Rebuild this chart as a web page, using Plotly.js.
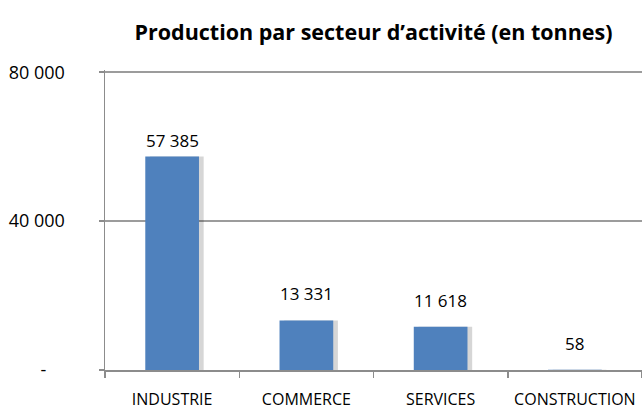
<!DOCTYPE html>
<html>
<head>
<meta charset="utf-8">
<script src="https://cdn.plot.ly/plotly-3.0.1.min.js"></script>
<style>html,body{margin:0;padding:0;background:#fff;}#chart{width:642px;height:410px;}</style>
</head>
<body>
<div id="chart"></div>
<script>
var categories = ["INDUSTRIE", "COMMERCE", "SERVICES", "CONSTRUCTION"];
var production = [57385, 13331, 11618, 58];
var yTickValues = [0, 40000, 80000];
var yTickLabels = ["-\u00a0\u00a0\u00a0\u00a0", "40 000", "80 000"];

function fmt(v) {
  return String(v).replace(/\B(?=(\d{3})+(?!\d))/g, " ");
}

var shadow = {
  type: "bar",
  x: categories,
  y: production,
  width: 0.4,
  offset: -0.2 + 0.035,
  marker: { color: "rgba(0,0,0,0.16)", line: { width: 0 } },
  hoverinfo: "skip",
  showlegend: false
};
var bars = {
  type: "bar",
  x: categories,
  y: production,
  width: 0.4,
  offset: -0.2,
  marker: { color: "#4F81BD", line: { width: 0 } },
  showlegend: false
};

var labelShift = [2, 13, 13, 13];
var annotations = categories.map(function (c, i) {
  return {
    x: c, y: production[i], xref: "x", yref: "y",
    text: fmt(production[i]), showarrow: false,
    yanchor: "bottom", yshift: labelShift[i],
    font: { family: "Open Sans", size: 17, color: "#000" }
  };
});

var layout = {
  width: 642, height: 410,
  margin: { l: 105, r: 0, t: 70, b: 40, pad: 0 },
  paper_bgcolor: "#fff", plot_bgcolor: "#fff",
  barmode: "overlay",
  title: {
    text: "<b>Production par secteur d’activité (en tonnes)</b>",
    font: { family: "Open Sans", size: 21.5, color: "#000" },
    x: 0.5, xref: "paper", y: 0.92, yref: "container", yanchor: "middle"
  },
  xaxis: {
    type: "category",
    range: [-0.5, 3.5],
    showline: true, linecolor: "#8c8c8c", linewidth: 1.5,
    ticks: "outside", tickson: "boundaries", ticklen: 6, tickcolor: "#8c8c8c", tickwidth: 1.5,
    showgrid: false,
    ticklabelstandoff: 14,
    tickfont: { family: "Open Sans", size: 16, color: "#000" }
  },
  yaxis: {
    range: [0, 80600],
    tickvals: yTickValues, ticktext: yTickLabels,
    showline: true, linecolor: "#8c8c8c", linewidth: 1.5,
    ticks: "outside", ticklen: 5, tickcolor: "#8c8c8c", tickwidth: 1.5,
    showgrid: true, gridcolor: "#9c9c9c", gridwidth: 1.5,
    zeroline: false,
    ticklabelstandoff: 30,
    tickfont: { family: "Open Sans", size: 18, color: "#000" }
  },
  annotations: annotations
};

Plotly.newPlot("chart", [shadow, bars], layout, { staticPlot: true, displayModeBar: false });
</script>
</body>
</html>
